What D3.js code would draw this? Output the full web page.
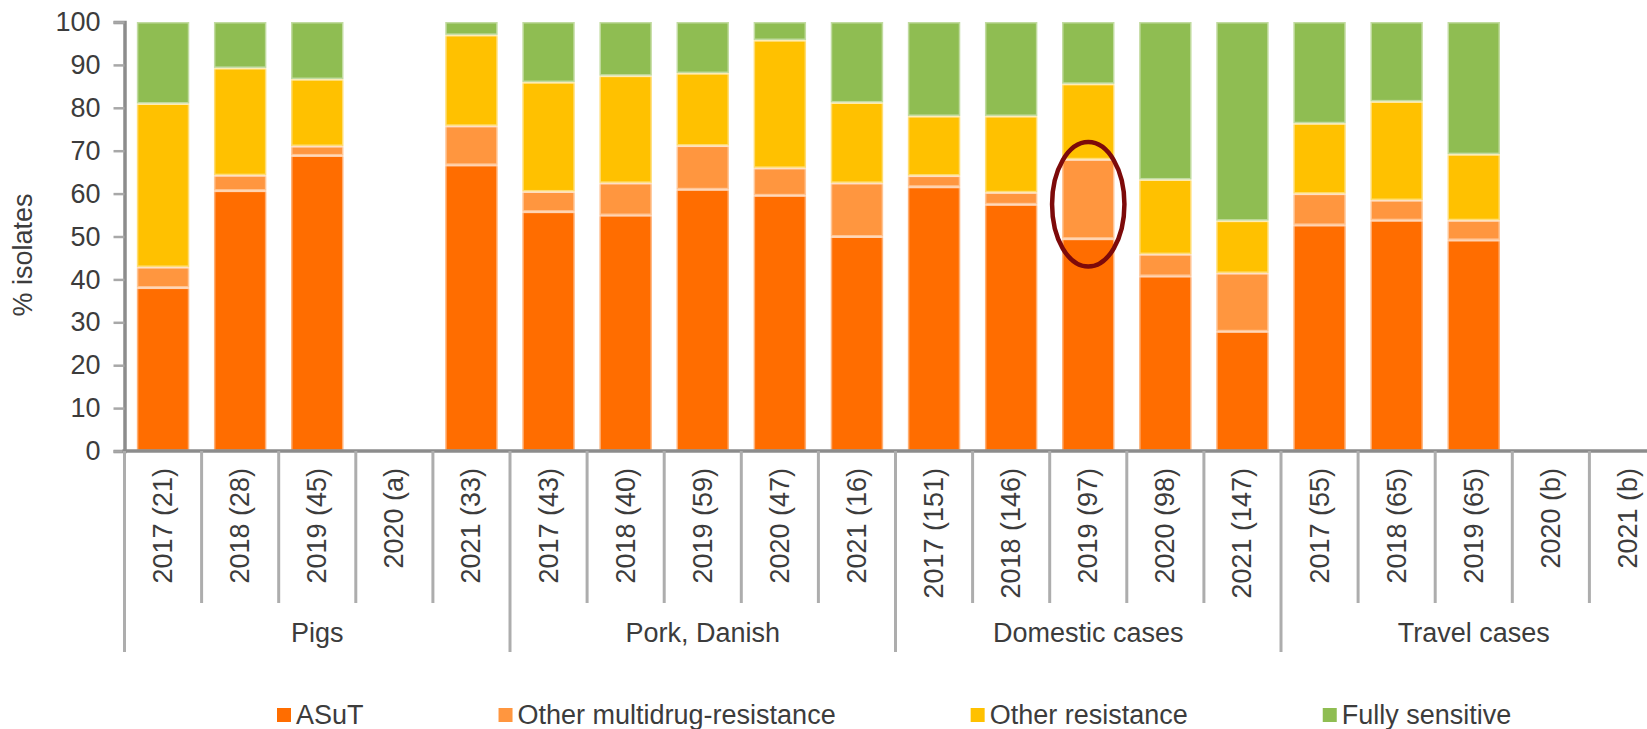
<!DOCTYPE html>
<html>
<head>
<meta charset="utf-8">
<style>
  body { margin: 0; background: #fff; }
  svg text { font-family: "Liberation Sans", Arial, sans-serif; fill: #3c3c3c; }
</style>
</head>
<body>
<svg width="1647" height="729"></svg>
<script src="https://d3js.org/d3.v7.min.js"></script>
<script>

// data (% of isolates)
var groups = ["Pigs", "Pork, Danish", "Domestic cases", "Travel cases"];
var categories = [
  "2017 (21)", "2018 (28)", "2019 (45)", "2020 (a)", "2021 (33)",
  "2017 (43)", "2018 (40)", "2019 (59)", "2020 (47)", "2021 (16)",
  "2017 (151)", "2018 (146)", "2019 (97)", "2020 (98)", "2021 (147)",
  "2017 (55)", "2018 (65)", "2019 (65)", "2020 (b)", "2021 (b)"
];
var asut      = [38.1, 60.7, 68.9, 0, 66.7, 55.8, 55.0, 61.0, 59.6, 50.0, 61.6, 57.5, 49.5, 40.8, 27.9, 52.7, 53.8, 49.2, 0, 0];
var otherMdr  = [4.8, 3.6, 2.2, 0, 9.1, 4.7, 7.5, 10.2, 6.4, 12.5, 2.6, 2.8, 18.5, 5.1, 13.6, 7.3, 4.7, 4.6, 0, 0];
var otherRes  = [38.1, 25.0, 15.6, 0, 21.2, 25.5, 25.0, 16.9, 29.8, 18.75, 13.9, 17.8, 17.6, 17.4, 12.2, 16.4, 23.0, 15.4, 0, 0];
var fullySens = [19.0, 10.7, 13.3, 0, 3.0, 14.0, 12.5, 11.9, 4.2, 18.75, 21.9, 21.9, 14.4, 36.7, 46.3, 23.6, 18.5, 30.8, 0, 0];
var seriesNames = ["ASuT", "Other multidrug-resistance", "Other resistance", "Fully sensitive"];
var seriesColors = ["#ff6d00", "#ff963f", "#ffc100", "#8fbd52"];
var yTicks = [0, 10, 20, 30, 40, 50, 60, 70, 80, 90, 100];
var highlight = { index: 12, from: 43, to: 72 };

var svg = d3.select("svg");

var rows = categories.map(function(c, i) {
  return { id: i, label: c, group: groups[Math.floor(i / 5)],
           ASuT: asut[i], "Other multidrug-resistance": otherMdr[i],
           "Other resistance": otherRes[i], "Fully sensitive": fullySens[i] };
});

var x = d3.scaleBand()
    .domain(rows.map(function(d) { return d.id; }))
    .range([124.5, 124.5 + 20 * 77.1])
    .paddingInner(0.32)
    .paddingOuter(0.16);

var y = d3.scaleLinear().domain([0, 100]).range([451, 22]);

var color = d3.scaleOrdinal().domain(seriesNames).range(seriesColors);

var stack = d3.stack().keys(seriesNames)(rows);

// bars
svg.append("g")
  .selectAll("g")
  .data(stack)
  .enter().append("g")
    .attr("fill", function(d) { return color(d.key); })
  .selectAll("rect")
  .data(function(d) { return d.filter(function(s) { return s[1] > s[0]; }); })
  .enter().append("rect")
    .attr("x", function(d) { return x(d.data.id); })
    .attr("width", x.bandwidth())
    .attr("y", function(d) { return y(d[1]); })
    .attr("height", function(d) { return y(d[0]) - y(d[1]); })
    .attr("stroke", "#fff")
    .attr("stroke-opacity", 0.45)
    .attr("stroke-width", 3);

// y axis
var yAxis = svg.append("g")
    .attr("transform", "translate(124.5,0)")
    .call(d3.axisLeft(y).tickValues(yTicks).tickSize(11).tickPadding(13));
yAxis.select(".domain").attr("stroke", "#8c8c8c").attr("stroke-width", 3.5);
yAxis.selectAll(".tick line").attr("stroke", "#a8a8a8").attr("stroke-width", 2.5);
yAxis.selectAll(".tick text").attr("font-size", 27).style("fill", "#3c3c3c");

svg.append("text")
    .attr("transform", "translate(23,255) rotate(-90)")
    .attr("text-anchor", "middle")
    .attr("dominant-baseline", "central")
    .attr("font-size", 27)
    .text("% isolates");

// x axis with category separators
var step = x.step();
var left = x.range()[0];
svg.append("line")
    .attr("x1", left - 2).attr("x2", x.range()[1])
    .attr("y1", y(0)).attr("y2", y(0))
    .attr("stroke", "#8c8c8c").attr("stroke-width", 3.5);

svg.append("g")
  .selectAll("line")
  .data(d3.range(categories.length + 1))
  .enter().append("line")
    .attr("x1", function(i) { return left + i * step; })
    .attr("x2", function(i) { return left + i * step; })
    .attr("y1", y(0))
    .attr("y2", function(i) { return i % 5 === 0 ? 652 : 603; })
    .attr("stroke", "#adadad")
    .attr("stroke-width", 3);

svg.append("g")
  .selectAll("text")
  .data(rows)
  .enter().append("text")
    .attr("transform", function(d) {
      return "translate(" + (x(d.id) + x.bandwidth() / 2) + ",468) rotate(-90)";
    })
    .attr("text-anchor", "end")
    .attr("dominant-baseline", "central")
    .attr("font-size", 27)
    .text(function(d) { return d.label; });

svg.append("g")
  .selectAll("text")
  .data(groups)
  .enter().append("text")
    .attr("x", function(g, i) { return left + (i * 5 + 2.5) * step; })
    .attr("y", 633)
    .attr("text-anchor", "middle")
    .attr("dominant-baseline", "central")
    .attr("font-size", 27)
    .text(function(g) { return g; });

// highlight ellipse
svg.append("ellipse")
    .attr("cx", x(highlight.index) + x.bandwidth() / 2)
    .attr("cy", (y(highlight.from) + y(highlight.to)) / 2)
    .attr("rx", x.bandwidth() * 0.69)
    .attr("ry", (y(highlight.from) - y(highlight.to)) / 2)
    .attr("fill", "none")
    .attr("stroke", "#7d0a0a")
    .attr("stroke-width", 4.5);

// legend
var legend = svg.append("g").attr("transform", "translate(277,715)");
var lx = 0;
seriesNames.forEach(function(name) {
  var item = legend.append("g").attr("transform", "translate(" + lx + ",0)");
  item.append("rect")
      .attr("x", 0).attr("y", -7)
      .attr("width", 14).attr("height", 14)
      .attr("fill", color(name));
  var t = item.append("text")
      .attr("x", 19)
      .attr("dominant-baseline", "central")
      .attr("font-size", 27)
      .text(name);
  lx += 19 + t.node().getComputedTextLength() + 135;
});

</script>
</body>
</html>
